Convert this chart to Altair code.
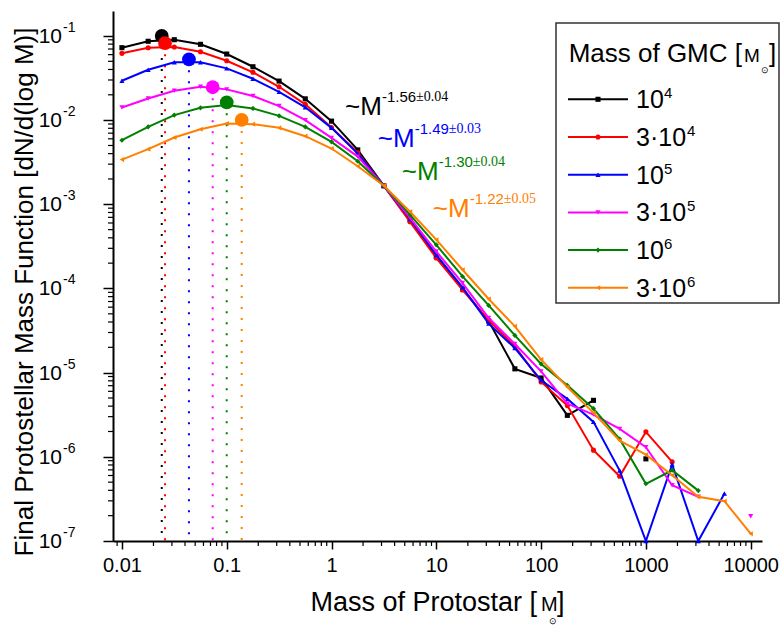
import altair as alt
import pandas as pd

# ---------------- data ----------------
mass = [0.01, 0.0178, 0.0316, 0.0562, 0.1, 0.178, 0.316, 0.562, 1.0, 1.78,
        3.16, 5.62, 10.0, 17.8, 31.6, 56.2, 100.0, 178.0, 316.0, 562.0,
        1000.0, 1780.0, 3160.0, 5620.0, 10000.0]

N = None
imf_1e4 = [0.0726, 0.0865, 0.0903, 0.0796, 0.0610, 0.0431, 0.0291, 0.0179, 0.00973, 0.00443,
           0.00166, 6.5e-4, 2.4e-4, 9.9e-5, 4.1e-5, 1.11e-5, 8.65e-6, 3.11e-6, 4.69e-6, N,
           9.46e-7, N, N, N, N]
imf_3e4 = [0.0622, 0.0726, 0.0740, 0.0650, 0.0508, 0.0370, 0.0249, 0.0154, 0.00818, 0.0041,
           0.00166, 6.2e-4, 2.3e-4, 9.6e-5, 4.18e-5, 2.05e-5, 7.76e-6, 4.06e-6, 1.2e-6, 5.87e-7,
           1.98e-6, 8.7e-7, N, N, N]
imf_1e5 = [0.0294, 0.0397, 0.0487, 0.0487, 0.0412, 0.0310, 0.0217, 0.0142, 0.0081, 0.0040,
           0.00166, 6.7e-4, 2.5e-4, 1.03e-4, 3.82e-5, 1.96e-5, 8.1e-6, 4.88e-6, 2.6e-6, 6.87e-7,
           1.0e-7, 8.1e-7, 1.0e-7, 3.66e-7, N]
imf_3e5 = [0.01415, 0.0181, 0.0223, 0.0249, 0.0232, 0.0194, 0.0147, 0.0100, 0.00616, 0.00369,
           0.00166, 6.9e-4, 2.75e-4, 1.16e-4, 4.46e-5, 2.19e-5, 1.035e-5, 4.29e-6, 3.17e-6, 2.15e-6,
           1.3e-6, 4.6e-7, 3.35e-7, N, 1.97e-7]
imf_1e6 = [0.00578, 0.00832, 0.01148, 0.0140, 0.0151, 0.01378, 0.01125, 0.00832, 0.00552, 0.00325,
           0.00166, 7.5e-4, 3.3e-4, 1.39e-4, 6.3e-5, 2.77e-5, 1.27e-5, 7.06e-6, 3.74e-6, 1.63e-6,
           4.78e-7, 6.92e-7, 3.97e-7, N, N]
imf_3e6 = [0.0034, 0.00452, 0.00622, 0.00781, 0.00914, 0.00896, 0.0081, 0.00645, 0.0046, 0.00283,
           0.00166, 8.15e-4, 3.8e-4, 1.67e-4, 7.5e-5, 3.55e-5, 1.43e-5, 6.76e-6, 3.33e-6, 1.56e-6,
           1.06e-6, 6.04e-7, 3.35e-7, 2.97e-7, 1.22e-7]

series_values = [imf_1e4, imf_3e4, imf_1e5, imf_3e5, imf_1e6, imf_3e6]
legend_base = ["10", "3·10", "10", "3·10", "10", "3·10"]
legend_exp = ["4", "4", "5", "5", "6", "6"]
colors = ["#000000", "#ff0000", "#0000ff", "#ff00ff", "#008000", "#ff8000"]
shapes = ["square", "circle", "triangle-up", "triangle-down", "diamond", "triangle-left"]

peak_mass = [0.024, 0.0258, 0.0436, 0.0735, 0.100, 0.139]
peak_value = [0.100, 0.082, 0.0528, 0.0246, 0.0163, 0.01007]

ann_mass = [1.345, 2.76, 4.68, 9.24]
ann_value = [0.01154, 0.00485, 0.00196, 7.16e-4]
ann_exp = ["-1.56", "-1.49", "-1.30", "-1.22"]
ann_err = ["±0.04", "±0.03", "±0.04", "±0.05"]
ann_color = ["#000000", "#0000ff", "#008000", "#ff8000"]

x_major = [0.01, 0.1, 1, 10, 100, 1000, 10000]
y_major = [1e-1, 1e-2, 1e-3, 1e-4, 1e-5, 1e-6, 1e-7]
y_exp_labels = ["-1", "-2", "-3", "-4", "-5", "-6", "-7"]

X_DOMAIN = [0.00822, 12820]
Y_DOMAIN = [1e-7, 0.198]

W, H = 649, 530
FONT = "Liberation Sans"

# ---------------- helpers ----------------
xs = alt.Scale(type="log", domain=X_DOMAIN, nice=False)
ys = alt.Scale(type="log", domain=Y_DOMAIN, nice=False)
xaxis = alt.Axis(values=x_major, labelExpr="'' + datum.value", title=None, grid=False,
                 tickSize=8, tickWidth=1.5, tickColor="black", domainColor="black",
                 domainWidth=2, labelFont=FONT, labelFontSize=20, labelColor="black",
                 labelPadding=6, labelFlush=False, labelOverlap=False)
yaxis = alt.Axis(values=y_major, labels=False, title=None, grid=False,
                 tickSize=10, tickWidth=1.5, tickColor="black", domainColor="black",
                 domainWidth=2)


def X(field):
    return alt.X(field, type="quantitative", scale=xs, axis=xaxis)


def Y(field):
    return alt.Y(field, type="quantitative", scale=ys, axis=yaxis)


dummy = pd.DataFrame({"k": [0]})

layers = []

# minor ticks
x_minor = []
y_minor = []
for e in range(-3, 5):
    for m in range(2, 10):
        v = m * 10.0 ** e
        if X_DOMAIN[0] <= v <= X_DOMAIN[1]:
            x_minor.append(v)
for e in range(-7, 0):
    for m in range(2, 10):
        v = m * 10.0 ** e
        if Y_DOMAIN[0] <= v <= Y_DOMAIN[1]:
            y_minor.append(v)

layers.append(alt.Chart(pd.DataFrame({"m": x_minor})).mark_rule(color="black", strokeWidth=1.2).encode(
    x=X("m"), y=alt.value(H), y2=alt.value(H + 5)))
layers.append(alt.Chart(pd.DataFrame({"v": y_minor})).mark_rule(color="black", strokeWidth=1.2).encode(
    y=Y("v"), x=alt.value(0), x2=alt.value(-5)))

# dotted peak lines
peaks = pd.DataFrame({"mass": peak_mass, "value": peak_value, "color": colors})
for i in range(6):
    layers.append(alt.Chart(peaks.iloc[[i]]).mark_rule(
        color=colors[i], strokeWidth=2, strokeDash=[2, 9]).encode(
        x=X("mass"), y=Y("value"), y2=alt.datum(1e-7)))

# series
for i, vals in enumerate(series_values):
    rows = []
    seg = 0
    for m, v in zip(mass, vals):
        if v is None:
            seg += 1
            continue
        rows.append({"mass": m, "value": v, "seg": seg})
    df = pd.DataFrame(rows)
    layers.append(alt.Chart(df).mark_line(color=colors[i], strokeWidth=2).encode(
        x=X("mass"), y=Y("value"), detail="seg:N"))
    layers.append(alt.Chart(df).mark_point(
        color=colors[i], fill=colors[i], filled=True, opacity=1, shape=shapes[i], size=26).encode(
        x=X("mass"), y=Y("value")))

# peak circles
for i in range(6):
    layers.append(alt.Chart(peaks.iloc[[i]]).mark_circle(color=colors[i], opacity=1, size=190).encode(
        x=X("mass"), y=Y("value")))

# slope annotations
ann = pd.DataFrame({"mass": ann_mass, "value": ann_value, "exp": ann_exp,
                    "err": ann_err, "color": ann_color})
layers.append(alt.Chart(ann).mark_text(align="left", baseline="alphabetic", font=FONT, fontSize=26,
                                       text="~M").encode(
    x=X("mass"), y=Y("value"), color=alt.Color("color:N", scale=None)))
layers.append(alt.Chart(ann).mark_text(align="left", baseline="alphabetic", font=FONT, fontSize=15,
                                       dx=37, dy=-13).encode(
    x=X("mass"), y=Y("value"), text="exp:N", color=alt.Color("color:N", scale=None)))
layers.append(alt.Chart(ann).mark_text(align="left", baseline="alphabetic", font="Liberation Serif",
                                       fontSize=14, dx=71, dy=-14).encode(
    x=X("mass"), y=Y("value"), text="err:N", color=alt.Color("color:N", scale=None)))

# y tick labels with superscripts
ylab = pd.DataFrame({"v": y_major, "e": y_exp_labels})
layers.append(alt.Chart(ylab).mark_text(align="right", baseline="alphabetic", font=FONT, fontSize=21,
                                        text="10", dy=7, color="black").encode(
    y=Y("v"), x=alt.value(-51)))
layers.append(alt.Chart(ylab).mark_text(align="left", baseline="alphabetic", font=FONT, fontSize=14,
                                        dy=-4, color="black").encode(
    y=Y("v"), x=alt.value(-50), text="e:N"))


def txt(s, x, y, size, **kw):
    return alt.Chart(dummy).mark_text(text=s, font=kw.pop("font", FONT), fontSize=size,
                                      color=kw.pop("color", "black"),
                                      align=kw.pop("align", "left"),
                                      baseline=kw.pop("baseline", "alphabetic"), **kw).encode(
        x=alt.value(x), y=alt.value(y))


# axis titles
layers.append(txt("Mass of Protostar [", 424, 600, 27, align="right"))
layers.append(txt("M", 428, 600, 20))
layers.append(txt("⊙", 440, 610, 9, align="center", baseline="middle"))
layers.append(txt("]", 444, 600, 27))
layers.append(txt("Final Protostellar Mass Function [dN/d(log M)]", -80, 281, 26,
                  align="center", angle=270))

# legend box
layers.append(alt.Chart(dummy).mark_rect(fill="white", stroke="#333333", strokeWidth=1.5).encode(
    x=alt.value(443), x2=alt.value(666), y=alt.value(12), y2=alt.value(292)))
layers.append(txt("Mass of GMC [", 629, 51, 26, align="right"))
layers.append(txt("M", 631, 51, 19))
layers.append(txt("⊙", 652, 59, 9, align="center", baseline="middle"))
layers.append(txt("]", 656, 51, 26))

exp_x = {"10": 551, "3·10": 574}
for i in range(6):
    cy = 88.3 + 37.7 * i
    layers.append(alt.Chart(dummy).mark_rule(color=colors[i], strokeWidth=2).encode(
        x=alt.value(455), x2=alt.value(515), y=alt.value(cy)))
    layers.append(alt.Chart(dummy).mark_point(color=colors[i], fill=colors[i], filled=True, opacity=1,
                                              shape=shapes[i], size=26).encode(
        x=alt.value(485), y=alt.value(cy)))
    layers.append(txt(legend_base[i], 523, cy + 9, 25))
    layers.append(txt(legend_exp[i], exp_x[legend_base[i]], cy - 1, 15))

chart = alt.layer(*layers).properties(
    width=W, height=H,
    autosize=alt.AutoSizeParams(type="none"),
    padding={"left": 113, "top": 11, "right": 20, "bottom": 86},
).configure_view(stroke=None)

chart.save("out.html", embed_options={"renderer": "svg", "actions": False})
